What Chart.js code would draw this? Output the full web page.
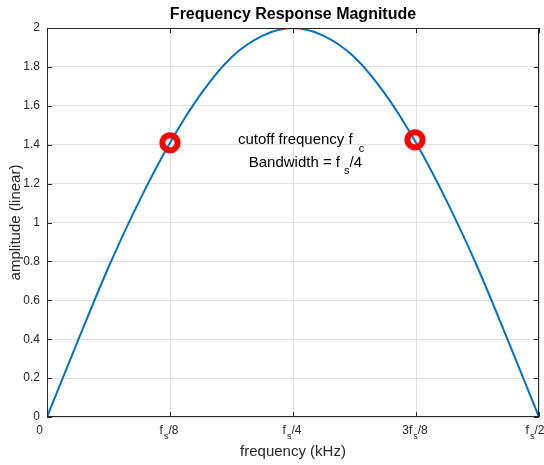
<!DOCTYPE html>
<html lang="en">
<head>
    <meta charset="UTF-8">
    <title>Frequency Response Magnitude</title>
    <style>
        body { margin: 0; background: #fff; }
        canvas { display: block; }
    </style>
</head>
<body>
    <canvas id="chart" width="544" height="465"></canvas>

    <script src="https://cdn.jsdelivr.net/npm/chart.js"></script>
    <script>
        // frequency as a fraction of fs (0 .. fs/2)
        const freq = [0, 0.03125, 0.0625, 0.09375, 0.125, 0.15625, 0.1875, 0.21875, 0.25,
                      0.28125, 0.3125, 0.34375, 0.375, 0.40625, 0.4375, 0.46875, 0.5];
        const amplitude = [0, 0.39, 0.77, 1.11, 1.41, 1.66, 1.85, 1.96, 2.0,
                           1.96, 1.85, 1.66, 1.41, 1.11, 0.77, 0.39, 0];

        const cutoffFreq = [0.125, 0.374];
        const cutoffAmp = [1.41, 1.425];

        const xTicks = [0, 0.125, 0.25, 0.375, 0.5];
        const xTickLabels = ['0', 'f_s/8', 'f_s/4', '3f_s/8', 'f_s/2'];

        const annotation = ['cutoff frequency f_c', 'Bandwidth = f_s/4'];

        const AXIS = '#262626';
        const FONT = '"Liberation Sans", Arial, Helvetica, sans-serif';

        // text with "_x" meaning subscript x
        function drawRich(ctx, str, x, y, size, align, gap, drop) {
            gap = gap || 1;
            drop = drop || 0.45;
            const parts = [];
            for (let i = 0; i < str.length; i++) {
                if (str[i] === '_' && i + 1 < str.length) {
                    parts.push({ t: str[i + 1], sub: true });
                    i++;
                } else {
                    const last = parts[parts.length - 1];
                    if (last && !last.sub) last.t += str[i];
                    else parts.push({ t: str[i], sub: false });
                }
            }
            const subSize = Math.round(size * 0.75);
            let w = 0;
            parts.forEach(p => {
                ctx.font = (p.sub ? subSize : size) + 'px ' + FONT;
                p.w = ctx.measureText(p.t).width;
                w += p.w + (p.sub ? gap : 0);
            });
            let cx = x;
            if (align === 'center') cx = x - w / 2;
            if (align === 'right') cx = x - w;
            ctx.textAlign = 'left';
            ctx.textBaseline = 'alphabetic';
            parts.forEach(p => {
                ctx.font = (p.sub ? subSize : size) + 'px ' + FONT;
                ctx.fillText(p.t, cx + (p.sub ? gap : 0), p.sub ? y + size * drop : y);
                cx += p.w + (p.sub ? gap : 0);
            });
        }

        const decorations = {
            id: 'decorations',
            afterDraw(chart) {
                const ctx = chart.ctx;
                const a = chart.chartArea;
                const xs = chart.scales.x;
                const ys = chart.scales.y;
                ctx.save();

                // axes box
                ctx.strokeStyle = AXIS;
                ctx.lineWidth = 1;
                ctx.strokeRect(Math.round(a.left) + 0.5, Math.round(a.top) + 0.5,
                               Math.round(a.right - a.left) - 1, Math.round(a.bottom - a.top) - 1);

                // inward ticks on all four sides
                ctx.beginPath();
                xTicks.forEach(v => {
                    const px = Math.round(xs.getPixelForValue(v)) + 0.5;
                    ctx.moveTo(px, a.bottom); ctx.lineTo(px, a.bottom - 5);
                    ctx.moveTo(px, a.top); ctx.lineTo(px, a.top + 5);
                });
                ys.ticks.forEach(t => {
                    const py = Math.round(ys.getPixelForValue(t.value)) + 0.5;
                    ctx.moveTo(a.left, py); ctx.lineTo(a.left + 5, py);
                    ctx.moveTo(a.right, py); ctx.lineTo(a.right - 5, py);
                });
                ctx.stroke();

                // x tick labels
                ctx.fillStyle = AXIS;
                xTicks.forEach((v, i) => {
                    const px = xs.getPixelForValue(v);
                    if (i === 0) drawRich(ctx, xTickLabels[i], px - 4, 434, 12, 'right');
                    else if (i === xTicks.length - 1) drawRich(ctx, xTickLabels[i], px - 4, 434, 12, 'center');
                    else drawRich(ctx, xTickLabels[i], px - 1, 434, 12, 'center');
                });

                // axis titles
                ctx.font = '15px ' + FONT;
                ctx.textAlign = 'center';
                ctx.textBaseline = 'middle';
                ctx.fillText('frequency (kHz)', (a.left + a.right) / 2, 452);
                ctx.save();
                ctx.translate(16, (a.top + a.bottom) / 2);
                ctx.rotate(-Math.PI / 2);
                ctx.fillText('amplitude (linear)', 0, 0);
                ctx.restore();

                // title
                ctx.fillStyle = '#000';
                ctx.font = 'bold 16px ' + FONT;
                ctx.fillText('Frequency Response Magnitude', (a.left + a.right) / 2, 15);

                // annotation, anchored in data units
                drawRich(ctx, annotation[0], xs.getPixelForValue(0.194), ys.getPixelForValue(1.405), 15, 'left', 6, 0.55);
                drawRich(ctx, annotation[1], xs.getPixelForValue(0.205), ys.getPixelForValue(1.287), 15, 'left', 4, 0.5);

                ctx.restore();
            }
        };

        new Chart(document.getElementById('chart'), {
            type: 'line',
            data: {
                datasets: [
                    {
                        label: 'cutoff',
                        data: cutoffFreq.map((x, i) => ({ x: x, y: cutoffAmp[i] })),
                        showLine: false,
                        pointStyle: 'circle',
                        pointRadius: 7.6,
                        pointBorderWidth: 6,
                        pointBorderColor: '#ff0000',
                        pointBackgroundColor: 'rgba(0,0,0,0)',
                        clip: false
                    },
                    {
                        label: 'magnitude',
                        data: freq.map((x, i) => ({ x: x, y: amplitude[i] })),
                        borderColor: '#0072BD',
                        borderWidth: 2,
                        pointRadius: 0,
                        fill: false,
                        cubicInterpolationMode: 'monotone'
                    }
                ]
            },
            options: {
                responsive: false,
                animation: false,
                layout: { autoPadding: false, padding: { top: 28, right: 5, bottom: 48, left: 0 } },
                plugins: {
                    legend: { display: false },
                    tooltip: { enabled: false },
                    title: { display: false }
                },
                scales: {
                    x: {
                        type: 'linear',
                        min: 0,
                        max: 0.5,
                        afterBuildTicks: scale => { scale.ticks = xTicks.map(v => ({ value: v })); },
                        afterFit: scale => { scale.height = 0; },
                        ticks: { display: false },
                        grid: { color: '#dfdfdf', drawTicks: false },
                        border: { display: false }
                    },
                    y: {
                        min: 0,
                        max: 2,
                        afterFit: scale => { scale.width = 47; },
                        ticks: {
                            stepSize: 0.2,
                            padding: 7,
                            color: AXIS,
                            font: { family: FONT, size: 12 },
                            callback: v => String(+v.toFixed(1))
                        },
                        grid: { color: '#dfdfdf', drawTicks: false },
                        border: { display: false }
                    }
                }
            },
            plugins: [decorations]
        });
    </script>
</body>
</html>
